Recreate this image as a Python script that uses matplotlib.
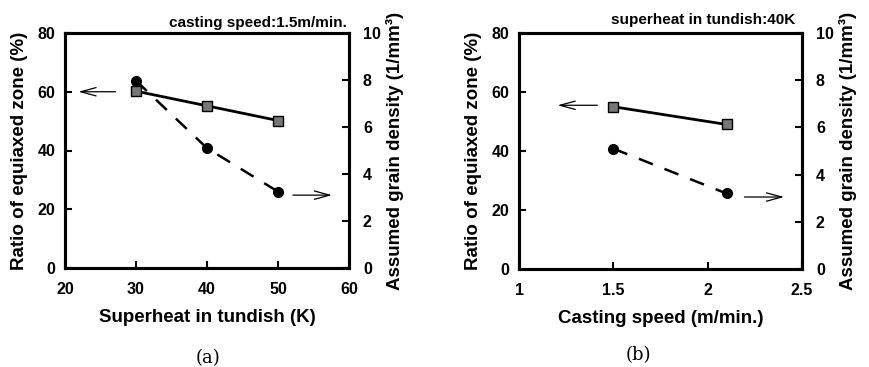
import matplotlib
matplotlib.use("Agg")
import matplotlib.pyplot as plt

plt.rcParams['font.family'] = ['Liberation Sans', 'DejaVu Sans']
plt.rcParams['font.weight'] = 'bold'

# Panel (a)
superheat = [30, 40, 50]
ratio_a = [60.2, 55.2, 50.2]
density_a = [7.97, 5.1, 3.25]

# Panel (b)
speed = [1.5, 2.1]
ratio_b = [55.0, 49.0]
density_b = [5.1, 3.2]

left_ticks = [0, 20, 40, 60, 80]
right_ticks = [0, 2, 4, 6, 8, 10]

fig = plt.figure(figsize=(8.69, 3.67), dpi=100)
W, H = 869, 367

def make_axes(x0, x1, y0, y1):
    return fig.add_axes([x0 / W, 1 - y1 / H, (x1 - x0) / W, (y1 - y0) / H])

def style(ax, ax2, xlim, xticks, xticklabels, xlabel):
    ax.set_xlim(*xlim)
    ax.set_ylim(0, 80)
    ax2.set_ylim(0, 10)
    ax.set_xticks(xticks)
    ax.set_xticklabels(xticklabels)
    ax.set_yticks(left_ticks)
    ax2.set_yticks(right_ticks)
    for a in (ax, ax2):
        for s in a.spines.values():
            s.set_linewidth(2.2)
    ax.tick_params(axis='x', direction='in', length=5, width=1.5,
                   labelsize=11.5, pad=10, top=False)
    ax.tick_params(axis='y', direction='in', length=5, width=1.5,
                   labelsize=11.5, pad=7, right=False)
    ax2.tick_params(axis='y', direction='in', length=5, width=1.5,
                    labelsize=11.5, pad=10)
    for lab in ax.get_xticklabels() + ax.get_yticklabels() + ax2.get_yticklabels():
        lab.set_fontweight('bold')
    ax.set_xlabel(xlabel, fontsize=13.5, fontweight='bold', labelpad=9)
    ax.set_ylabel('Ratio of equiaxed zone (%)', fontsize=13.5, fontweight='bold', labelpad=7)
    ax2.set_ylabel('Assumed grain density (1/mm³)', fontsize=13.5,
                   fontweight='bold', labelpad=4)

sq = dict(marker='s', markersize=6.5, markerfacecolor='#777777',
          markeredgecolor='black', markeredgewidth=1.0)
ci = dict(marker='o', markersize=7, markerfacecolor='black',
          markeredgecolor='black')
arrow = dict(arrowstyle='->,head_length=1.1,head_width=0.3', lw=0.9, color='black')

# ----- panel (a)
ax = make_axes(65, 349, 33, 268)
ax2 = ax.twinx()
ax.plot(superheat, ratio_a, color='black', lw=2.0, **sq, zorder=3)
ax2.plot(superheat, density_a, color='black', lw=1.8, ls=(0, (6, 5)), **ci, zorder=3)
style(ax, ax2, (20, 60), [20, 30, 40, 50, 60], ['20', '30', '40', '50', '60'],
      'Superheat in tundish (K)')
ax.annotate('', xy=(21.5, 60), xytext=(27.5, 60), arrowprops=arrow)
ax2.annotate('', xy=(58.0, 3.1), xytext=(51.7, 3.1), arrowprops=arrow)
fig.text(347 / W, 1 - 23 / H, 'casting speed:1.5m/min.', ha='right', va='center',
         fontsize=11, fontweight='bold')
fig.text(208 / W, 1 - 358 / H, '(a)', ha='center', va='center', fontsize=13,
         fontweight='normal', family='DejaVu Serif')

# ----- panel (b)
bx = make_axes(519, 802, 33, 269)
bx2 = bx.twinx()
bx.plot(speed, ratio_b, color='black', lw=2.0, **sq, zorder=3)
bx2.plot(speed, density_b, color='black', lw=1.8, ls=(0, (6, 5)), **ci, zorder=3)
style(bx, bx2, (1, 2.5), [1, 1.5, 2, 2.5], ['1', '1.5', '2', '2.5'],
      'Casting speed (m/min.)')
bx.annotate('', xy=(1.19, 55.5), xytext=(1.43, 55.5), arrowprops=arrow)
bx2.annotate('', xy=(2.42, 3.05), xytext=(2.18, 3.05), arrowprops=arrow)
fig.text(795 / W, 1 - 20 / H, 'superheat in tundish:40K', ha='right', va='center',
         fontsize=11, fontweight='bold')
fig.text(638 / W, 1 - 355 / H, '(b)', ha='center', va='center', fontsize=13,
         fontweight='normal', family='DejaVu Serif')

fig.savefig('out.png', dpi=100)
